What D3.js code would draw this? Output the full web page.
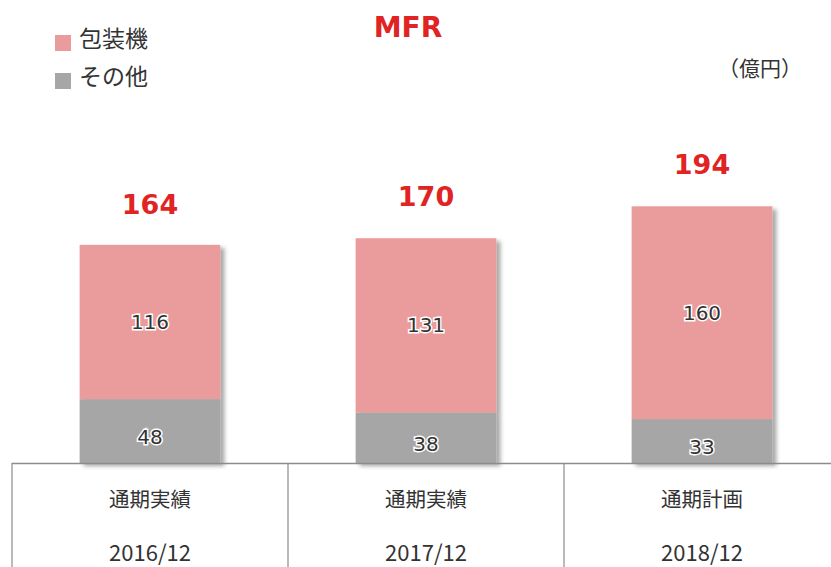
<!DOCTYPE html>
<html><head><meta charset="utf-8">
<script src="https://cdn.jsdelivr.net/npm/d3@7"></script>
<style>body{margin:0;background:#fff}svg{display:block}</style>
</head><body>
<script>
const periods = ["通期実績", "通期実績", "通期計画"];
const years = ["2016/12", "2017/12", "2018/12"];
const packaging = [116, 131, 160];
const others = [48, 38, 33];
const totals = [164, 170, 194];
const seriesNames = ["包装機", "その他"];
const colors = ["#EA9C9C", "#A6A6A6"];

const W = 831, H = 567;
const svg = d3.select("body").append("svg").attr("width", W).attr("height", H);
const defs = svg.append("defs");
const f = defs.append("filter").attr("id","sh").attr("x","-10%").attr("y","-10%").attr("width","130%").attr("height","130%");
f.append("feDropShadow").attr("dx",4).attr("dy",3).attr("stdDeviation",2.2).attr("flood-color","#000").attr("flood-opacity",0.35);

const x = d3.scaleBand().domain(d3.range(3)).range([12, 840]).paddingInner(0.49).paddingOuter(0.245);
const y = d3.scaleLinear().domain([0, 200]).range([463, 197]);

const data = d3.range(3).map(i => ({i, pk: packaging[i], ot: others[i], tot: totals[i]}));
const stack = d3.stack().keys(["ot","pk"])(data);
const colorMap = {ot: colors[1], pk: colors[0]};
const labelShift = {ot: 13, pk: 7};

const gBars = svg.append("g").attr("filter","url(#sh)");
stack.forEach(layer => {
  gBars.selectAll(null).data(layer).join("rect")
    .attr("x", d => x(d.data.i))
    .attr("y", d => y(d[1]))
    .attr("width", x.bandwidth())
    .attr("height", d => y(d[0]) - y(d[1]))
    .attr("fill", colorMap[layer.key]);
});

// value labels
stack.forEach(layer => {
  svg.selectAll(null).data(layer).join("text")
    .attr("x", d => x(d.data.i) + x.bandwidth()/2)
    .attr("y", d => (y(d[0]) + y(d[1]))/2 + labelShift[layer.key])
    .attr("text-anchor","middle")
    .attr("font-family","DejaVu Sans, Verdana, sans-serif")
    .attr("font-size", 20)
    .attr("fill","#333")
    .attr("stroke","#fff").attr("stroke-width",3).attr("paint-order","stroke")
    .text(d => d.data[layer.key]);
});

// totals
svg.selectAll(null).data(data).join("text")
  .attr("x", d => x(d.i) + x.bandwidth()/2)
  .attr("y", d => y(d.tot) - 31)
  .attr("text-anchor","middle")
  .attr("font-family","DejaVu Sans, Verdana, sans-serif")
  .attr("font-weight","bold")
  .attr("font-size", 27)
  .attr("fill","#E02424")
  .text(d => d.tot);

// table lines
const lineColor = "#8c8c8c";
svg.append("line").attr("x1",12).attr("x2",W).attr("y1",463.5).attr("y2",463.5).attr("stroke",lineColor).attr("stroke-width",1.5);
d3.range(3).forEach(i => {
  const lx = x(i) - x.step()*x.paddingOuter();
  svg.append("line").attr("x1",lx).attr("x2",lx).attr("y1",463).attr("y2",H).attr("stroke",lineColor).attr("stroke-width",1.2);
});

// category labels
const gx = svg.append("g");
gx.selectAll(null).data(d3.range(3)).join("text")
  .attr("x", i => x(i) + x.bandwidth()/2).attr("y", 507)
  .attr("text-anchor","middle").attr("font-family","'Noto Sans CJK JP', sans-serif")
  .attr("font-size",20.5).attr("fill","#333").text(i => periods[i]);
gx.selectAll(null).data(d3.range(3)).join("text")
  .attr("x", i => x(i) + x.bandwidth()/2).attr("y", 561)
  .attr("text-anchor","middle").attr("font-family","'Noto Sans CJK JP', sans-serif")
  .attr("font-size",22).attr("fill","#333").text(i => years[i]);

// title
svg.append("text").attr("x",408).attr("y",37).attr("text-anchor","middle")
  .attr("font-family","DejaVu Sans, Verdana, sans-serif").attr("font-weight","bold")
  .attr("font-size",28).attr("fill","#E02424").text("MFR");

// legend
const lg = svg.append("g");
seriesNames.forEach((n, i) => {
  lg.append("rect").attr("x",55).attr("y",35 + i*38).attr("width",16).attr("height",16).attr("fill",colors[i]);
  lg.append("text").attr("x",79).attr("y",47 + i*38).attr("font-family","'Noto Sans CJK JP', sans-serif")
    .attr("font-size",23).attr("fill","#333").text(n);
});

// unit
svg.append("text").attr("x",802).attr("y",76).attr("text-anchor","end")
  .attr("font-family","'Noto Sans CJK JP', sans-serif").attr("font-size",21).attr("fill","#333").text("（億円）");
</script>
</body></html>
